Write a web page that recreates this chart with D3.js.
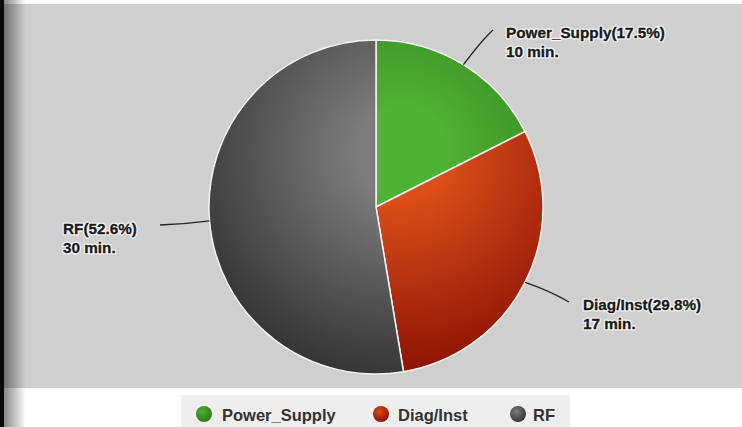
<!DOCTYPE html>
<html>
<head>
<meta charset="utf-8">
<script src="https://cdn.jsdelivr.net/npm/d3@7"></script>
<style>
  body { margin: 0; background: #fff; }
  svg { display: block; font-family: "Liberation Sans", Arial, sans-serif; }
</style>
</head>
<body>
<svg width="742" height="427"></svg>
<script>
var categories = ['Power_Supply', 'Diag/Inst', 'RF'];
var minutes = [10, 17, 30];
var lightColors = ['#4eb234', '#de4e1a', '#7c7c7c'];
var darkColors = ['#2c7a1a', '#8a1204', '#363636'];

var svg = d3.select('svg');
var W = 742, H = 427;
var cx = 376, cy = 207, R = 167;

// background panels
svg.append('rect').attr('x', 0).attr('y', 4).attr('width', W).attr('height', 384).attr('fill', '#cfcfcf');

var defs = svg.append('defs');
var edge = defs.append('linearGradient').attr('id', 'edge').attr('x1', 0).attr('x2', 1).attr('y1', 0).attr('y2', 0);
edge.append('stop').attr('offset', '0%').attr('stop-color', '#000').attr('stop-opacity', 0.55);
edge.append('stop').attr('offset', '100%').attr('stop-color', '#000').attr('stop-opacity', 0);
svg.append('rect').attr('x', 0).attr('y', 0).attr('width', 26).attr('height', H).attr('fill', 'url(#edge)');
svg.append('rect').attr('x', 0).attr('y', 0).attr('width', 4).attr('height', H).attr('fill', '#0a0a0a');

// shading: one light spot above the centre, in the slice group's coordinates
categories.forEach(function(c, i){
	var g = defs.append('radialGradient')
		.attr('id', 'grad' + i)
		.attr('gradientUnits', 'userSpaceOnUse')
		.attr('cx', 25).attr('cy', -55).attr('r', R * 1.35);
	g.append('stop').attr('offset', '0%').attr('stop-color', lightColors[i]);
	g.append('stop').attr('offset', '20%').attr('stop-color', lightColors[i]);
	g.append('stop').attr('offset', '100%').attr('stop-color', darkColors[i]);
});

var total = d3.sum(minutes);
var pie = d3.pie().sort(null).value(function(d){ return d; });
var arcs = pie(minutes);
var arc = d3.arc().innerRadius(0).outerRadius(R);

var chart = svg.append('g').attr('transform', 'translate(' + cx + ',' + cy + ')');

chart.selectAll('path.slice')
	.data(arcs)
	.enter().append('path')
	.attr('class', 'slice')
	.attr('d', arc)
	.attr('fill', function(d, i){ return 'url(#grad' + i + ')'; })
	.attr('stroke', '#f4f4f4')
	.attr('stroke-width', 1.5);

// leader lines + labels
var labelPos = [
	{ tx: 493, ty: 30, bx: 482, by: 40, lx: 506, ly: 38 },
	{ tx: 569, ty: 302, bx: 548, by: 290, lx: 583, ly: 310 },
	{ tx: 160, ty: 225, bx: 185, by: 224, lx: 63, ly: 234 }
];
var labels = svg.append('g');
arcs.forEach(function(d, i){
	var a = (d.startAngle + d.endAngle) / 2;
	var sx = cx + R * Math.sin(a), sy = cy - R * Math.cos(a);
	var p = labelPos[i];
	var path = d3.path();
	path.moveTo(sx, sy);
	path.quadraticCurveTo(p.bx, p.by, p.tx, p.ty);
	labels.append('path').attr('d', path.toString())
		.attr('fill', 'none').attr('stroke', '#222').attr('stroke-width', 1.3);

	var pct = (minutes[i] / total * 100).toFixed(1);
	var lines = [categories[i] + '(' + pct + '%)', minutes[i] + ' min.'];
	lines.forEach(function(t, k){
		labels.append('text').attr('x', p.lx).attr('y', p.ly + k * 19)
			.attr('font-size', 15.3).attr('font-weight', 'bold')
			.attr('fill', 'none').attr('stroke', '#fff').attr('stroke-width', 3).attr('stroke-opacity', 0.75)
			.attr('stroke-linejoin', 'round')
			.text(t);
		labels.append('text').attr('x', p.lx).attr('y', p.ly + k * 19)
			.attr('font-size', 15.3).attr('font-weight', 'bold')
			.attr('fill', '#1a1a1a').attr('stroke', '#1a1a1a').attr('stroke-width', 0.3)
			.text(t);
	});
});

// legend
var leg = svg.append('g');
leg.append('rect').attr('x', 181).attr('y', 395).attr('width', 389).attr('height', 32).attr('fill', '#eeeeee');
var legX = [204, 381, 518];
var legTextX = [222, 398, 533];
categories.forEach(function(c, i){
	var lg = defs.append('radialGradient').attr('id', 'lg' + i).attr('cx', '40%').attr('cy', '35%').attr('r', '65%');
	lg.append('stop').attr('offset', '0%').attr('stop-color', lightColors[i]);
	lg.append('stop').attr('offset', '100%').attr('stop-color', darkColors[i]);
	leg.append('circle').attr('cx', legX[i]).attr('cy', 414).attr('r', 8).attr('fill', 'url(#lg' + i + ')');
	leg.append('text').attr('x', legTextX[i]).attr('y', 420.5)
		.attr('font-size', 16.5).attr('font-weight', 'bold').attr('fill', '#333')
		.text(c);
});
</script>
</body>
</html>
